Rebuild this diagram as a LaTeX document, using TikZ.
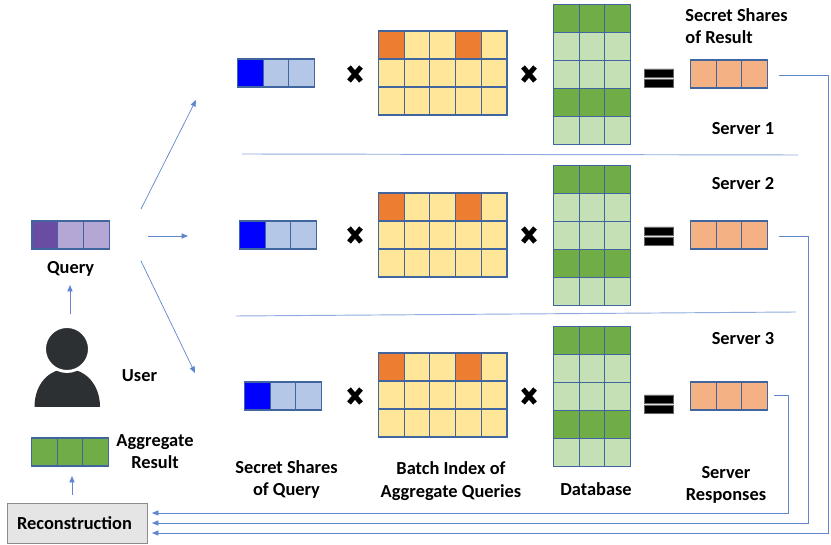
\documentclass[tikz,border=0pt]{standalone}
\usepackage{fontspec}
\setmainfont{Carlito}
\usetikzlibrary{positioning,arrows.meta}
\definecolor{edge}{HTML}{41659F}
\definecolor{wire}{HTML}{5F86CF}
\definecolor{ink}{HTML}{2D3033}
\definecolor{sharedark}{HTML}{0000FF}
\definecolor{sharelight}{HTML}{B4C7E7}
\definecolor{hot}{HTML}{ED7D31}
\definecolor{batch}{HTML}{FFE699}
\definecolor{dbdark}{HTML}{70AD47}
\definecolor{dblight}{HTML}{C5E0B4}
\definecolor{result}{HTML}{F4B183}
\definecolor{qdark}{HTML}{6A4CA5}
\definecolor{qlight}{HTML}{B4A7D6}
\tikzset{
  cell/.style = {draw=edge, line width=0.9pt, minimum width=0.772cm, minimum height=0.84cm, inner sep=0pt},
  tag/.style = {font=\fontsize{15.7}{19.4}\selectfont\bfseries, align=center, inner sep=0pt},
  flow/.style = {draw=wire, line width=0.6pt, -{Triangle[length=5.5pt,width=4.5pt]}},
  wire/.style = {draw=wire!70, line width=0.8pt}
}
% one row of cells, y is the row centre
\newcommand{\cellrow}[4]{\foreach \f [count=\c] in {#4} \node[cell,fill=\f] (#1-\c) at ({#2+(\c-0.5)*25.7},#3) {};}
\newcommand{\timesmark}[2]{\draw[line width=4.2pt] (#1-6,#2-7) -- (#1+6,#2+7) (#1-6,#2+7) -- (#1+6,#2-7);}
\newcommand{\equalsmark}[2]{\fill[draw=black!60,line width=0.5pt] (#1-14.5,#2-9) rectangle (#1+14.5,#2-1) (#1-14.5,#2+1) rectangle (#1+14.5,#2+9);}

\begin{document}
\begin{tikzpicture}[x=0.03cm,y=-0.03cm]
\useasboundingbox (0,0) rectangle (831,545);

% left side
\cellrow{query}{32}{235}{qdark,qlight,qlight}
\cellrow{aggr}{31.5}{452}{dbdark,dbdark,dbdark}
\node[tag] (querytag) [below=0.34cm of query-2] {Query};
\node[tag] (usertag) at (139.5,376) {User};
\node[tag] (aggrtag) at (155,451.5) {Aggregate\\Result};
\node[draw=black!45, fill=black!10, line width=0.8pt, minimum width=4.2cm, minimum height=1.2cm, font=\fontsize{15.7}{17}\selectfont\bfseries, inner sep=0pt] (rec) at (77,523.5) {Reconstruction\kern0.15cm};

\fill[ink] (34.5,407) .. controls (34.5,384) and (49,369) .. (67,369) .. controls (85,369) and (100,384) .. (100,407) -- cycle;
\node[circle, fill=ink, draw=white, line width=2.5pt, minimum size=1.35cm, inner sep=0pt] (head) at (67,349) {};

% the three servers
\foreach \n/\sx/\sy/\by/\dy/\ry/\ey in {1/237.5/73/45/18.5/74/78, 2/239.5/235/207/179.5/235/236, 3/244.5/396/367/340.5/396/404}{
  \cellrow{share\n}{\sx}{\sy}{sharedark,sharelight,sharelight}
  \cellrow{batch\n a}{378.5}{\by}{hot,batch,batch,hot,batch}
  \cellrow{batch\n b}{378.5}{\by+28}{batch,batch,batch,batch,batch}
  \cellrow{batch\n c}{378.5}{\by+56}{batch,batch,batch,batch,batch}
  \cellrow{db\n a}{553.5}{\dy}{dbdark,dbdark,dbdark}
  \cellrow{db\n b}{553.5}{\dy+28}{dblight,dblight,dblight}
  \cellrow{db\n c}{553.5}{\dy+56}{dblight,dblight,dblight}
  \cellrow{db\n d}{553.5}{\dy+84}{dbdark,dbdark,dbdark}
  \cellrow{db\n e}{553.5}{\dy+112}{dblight,dblight,dblight}
  \cellrow{res\n}{690.5}{\ry}{result,result,result}
  \timesmark{355}{\ry}
  \timesmark{529}{\ry}
  \equalsmark{659}{\ey}
}

\node[tag, align=left] (restag) at (736.5,26) {Secret Shares\\of Result};
\node[tag] (server1) at (743,129) {Server 1};
\node[tag] (server2) at (743,184) {Server 2};
\node[tag] (server3) at (743,338.5) {Server 3};
\node[tag] (sharetag) at (286.5,479.5) {Secret Shares\\of Query};
\node[tag] (batchtag) at (451,481) {Batch Index of\\Aggregate Queries};
\node[tag] (dbtag) at (596,489) {Database};
\node[tag] (resptag) at (726,485) {Server\\Responses};

% free ends of the connectors
\coordinate (userout) at (70,314);
\coordinate (queryin) at (70,285);
\coordinate (recout) at (72,495);
\coordinate (aggrin) at (72,476);
\coordinate (fanup) at (141,209);
\coordinate (fanmid) at (148,236);
\coordinate (fandown) at (141,261);
\coordinate (to1) at (196,100);
\coordinate (to2) at (188,236);
\coordinate (to3) at (195,373);
\coordinate (out1) at (779,75);
\coordinate (out2) at (779,236.5);
\coordinate (out3) at (774,395.5);
\coordinate (in1) at (152,533);
\coordinate (in2) at (152,523);
\coordinate (in3) at (152,513);
\coordinate (sepa) at (242,154);
\coordinate (sepb) at (798,155);
\coordinate (sepc) at (236,316);
\coordinate (sepd) at (796,312);

\draw[flow] (userout) -- (queryin);
\draw[flow] (recout) -- (aggrin);
\draw[flow] (fanup) -- (to1);
\draw[flow] (fanmid) -- (to2);
\draw[flow] (fandown) -- (to3);
\draw[flow] (out1) -- ++(49,0) |- (in1);
\draw[flow] (out2) -- ++(29,0) |- (in2);
\draw[flow] (out3) -- ++(14,0) |- (in3);
\draw[wire] (sepa) -- (sepb);
\draw[wire] (sepc) -- (sepd);
\end{tikzpicture}
\end{document}
